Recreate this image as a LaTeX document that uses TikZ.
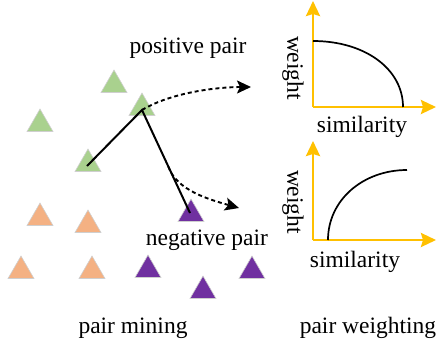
\documentclass[tikz,border=0pt]{standalone}
\usepackage{fontspec}
\setmainfont{Liberation Serif}
\usetikzlibrary{shapes.geometric,arrows.meta,calc}
\definecolor{tgreen}{HTML}{A9D18E}
\definecolor{torange}{HTML}{F4B183}
\definecolor{tpurple}{HTML}{7030A0}
\definecolor{taxis}{HTML}{FFC000}
\definecolor{tborder}{HTML}{CFCFCF}
\tikzset{
  tri/.style={regular polygon, regular polygon sides=3, minimum size=30pt, inner sep=0pt, draw=tborder, line width=0.6pt},
  gtri/.style={tri, fill=tgreen},
  otri/.style={tri, fill=torange},
  ptri/.style={tri, fill=tpurple},
  lbl/.style={inner sep=0pt, font=\rmfamily\fontsize{23.5}{28}\selectfont},
  axis/.style={draw=taxis, line width=2.6pt, -{Stealth[length=15pt,width=14pt,inset=2pt]}},
  curve/.style={line width=1.7pt},
  pairline/.style={line width=2pt, line join=miter},
  dasharrow/.style={line width=1.9pt, dash pattern=on 4pt off 3pt, -{Stealth[length=14pt,width=13pt,inset=3pt]}}
}
\begin{document}
\begin{tikzpicture}[x=1pt,y=-1pt]
\useasboundingbox (0,0) rectangle (440,349);
% triangles
\node[gtri] (g1) at (114,85) {};
\node[gtri] (g2) at (142,108) {};
\node[gtri] (g3) at (40,124) {};
\node[gtri] (g4) at (88,164) {};
\node[otri] (o1) at (40,218) {};
\node[otri] (o2) at (88,225) {};
\node[ptri] (p1) at (191,214) {};
\node[otri] (o3) at (21,271) {};
\node[otri] (o4) at (92,271) {};
\node[ptri] (p2) at (148,270) {};
\node[ptri] (p3) at (203,291) {};
\node[ptri] (p4) at (252,271) {};
% pair lines
\coordinate (a) at (87,166);
\coordinate (b) at (142,110);
\coordinate (c) at (190,213);
\draw[pairline] (a) -- (b) -- (c);
\coordinate (m) at ($(b)!0.55!(c)$);
\coordinate (e1) at (251,87);
\coordinate (e2) at (239,208);
\draw[dasharrow] (b) .. controls +(30,-18) and +(-32,0) .. (e1);
\draw[dasharrow] (m) .. controls +(8,24) and +(-28,-8) .. (e2);
% labels
\node[lbl] (pos) at (188,48) {positive pair};
\node[lbl] (neg) at (207,240) {negative pair};
\node[lbl] (mine) at (133,328) {pair mining};
\node[lbl] (wgt) at (368,328) {pair weighting};
% top chart
\coordinate (o1c) at (313,107);
\coordinate (y1) at (313,1);
\coordinate (x1) at (436,107);
\draw[axis] (o1c) -- (y1);
\draw[axis] (o1c) -- (x1);
\coordinate (c1s) at (313,41);
\coordinate (c1e) at (403,107);
\draw[curve] (c1s) .. controls +(52,0) and +(0,-38) .. (c1e);
\node[lbl, rotate=-90] (w1) at (293,68) {weight};
\node[lbl] (s1) at (362,127) {similarity};
% bottom chart
\coordinate (o2c) at (313,240);
\coordinate (y2) at (313,141);
\coordinate (x2) at (436,240);
\draw[axis] (o2c) -- (y2);
\draw[axis] (o2c) -- (x2);
\coordinate (c2s) at (328,240);
\coordinate (c2e) at (407,170);
\draw[curve] (c2s) .. controls +(0,-40) and +(-44,0) .. (c2e);
\node[lbl, rotate=-90] (w2) at (293,202) {weight};
\node[lbl] (s2) at (355,262) {similarity};
\end{tikzpicture}
\end{document}
